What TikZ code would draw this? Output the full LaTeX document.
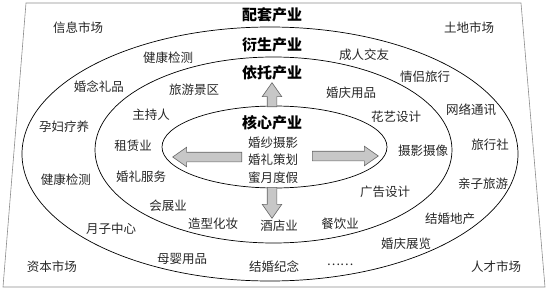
\documentclass[tikz,border=0pt]{standalone}
\usepackage{fontspec}
\newfontfamily\cjk{Noto Sans CJK SC}
\usetikzlibrary{positioning, shapes.geometric, shapes.arrows}

\begin{document}
\begin{tikzpicture}[x=1pt, y=-1pt,
    every node/.style={font=\cjk\fontsize{12.5pt}{17.5pt}\selectfont, text=black!85, inner sep=1pt},
    ring/.style={draw, ellipse, line width=0.7pt, inner sep=0pt},
    heading/.style={font=\cjk\bfseries\fontsize{15pt}{18pt}\selectfont, text=black},
    blockarrow/.style={single arrow, draw=black!60, fill=black!22, line width=0.6pt,
        inner sep=4.5pt, single arrow head extend=5pt, single arrow tip angle=70}]
    \useasboundingbox (0,0) rectangle (547,289);
    % frame of the outer field
    \draw[black!45, line width=0.6pt] (26,3) -- (521,3) -- (545,287) -- (3,287) -- cycle;

    % rings
    \node[ring, minimum width=496pt, minimum height=254pt] (outerRing) at (270,154) {};
    \node[ring, minimum width=357pt, minimum height=186pt] (midRing) at (273.5,150) {};
    \node[ring, minimum width=225pt, minimum height=82pt] (coreRing) at (274.5,147) {};

    % headings
    \node[heading] (peitao) at (272,15) {配套产业};
    \node[heading] (yansheng) at (272,45) {衍生产业};
    \node[heading] (yituo) at (272,73) {依托产业};
    \node[heading] (hexin) at (272,123) {核心产业};
    \node[align=center] (coreItems) at (273,160) {婚纱摄影\\婚礼策划\\蜜月度假};

    % block arrows
    \node[blockarrow, minimum height=24pt, shape border rotate=90, anchor=tail] (upArrow) at (272,107) {};
    \node[blockarrow, minimum height=31pt, shape border rotate=270, anchor=tail] (downArrow) at (272,187) {};
    \node[blockarrow, minimum height=69pt, shape border rotate=180, anchor=tail] (leftArrow) at (242,157) {};
    \node[blockarrow, minimum height=66pt, shape border rotate=0, anchor=tail] (rightArrow) at (312,156) {};

    % markets
    \node (xinxi) at (78,28) {信息市场};
    \node (tudi) at (469,28) {土地市场};
    \node (ziben) at (52,267) {资本市场};
    \node (rencai) at (496,267) {人才市场};

    % derived industries
    \node (jiankangA) at (168,58) {健康检测};
    \node (linian) at (99,87) {婚念礼品};
    \node (yunfu) at (64,127) {孕妇疗养};
    \node (jiankangB) at (66,180) {健康检测};
    \node (yuezi) at (111,229) {月子中心};
    \node (muying) at (182,259) {母婴用品};
    \node (jinian) at (274,267) {结婚纪念};
    \node (etc) at (340,265) {……};
    \node (zhanlan) at (406,244) {婚庆展览};
    \node (dichan) at (450,219) {结婚地产};
    \node (qinzi) at (483,184) {亲子旅游};
    \node (lvxing) at (490,145) {旅行社};
    \node (wangluo) at (471,110) {网络通讯};
    \node (qinglv) at (425,77) {情侣旅行};
    \node (jiaoyou) at (364,55) {成人交友};

    % supporting industries
    \node (jingqu) at (194,90) {旅游景区};
    \node (zhuchi) at (151,115) {主持人};
    \node (zulin) at (133,146) {租赁业};
    \node (fuwu) at (141,177) {婚礼服务};
    \node (huizhan) at (168,206) {会展业};
    \node (zaoxing) at (213,224) {造型化妆};
    \node (jiudian) at (279,226) {酒店业};
    \node (canyin) at (340,224) {餐饮业};
    \node (guanggao) at (385,192) {广告设计};
    \node (sheying) at (423,151) {摄影摄像};
    \node (huayi) at (396,117) {花艺设计};
    \node (yongpin) at (351,93) {婚庆用品};
\end{tikzpicture}
\end{document}
